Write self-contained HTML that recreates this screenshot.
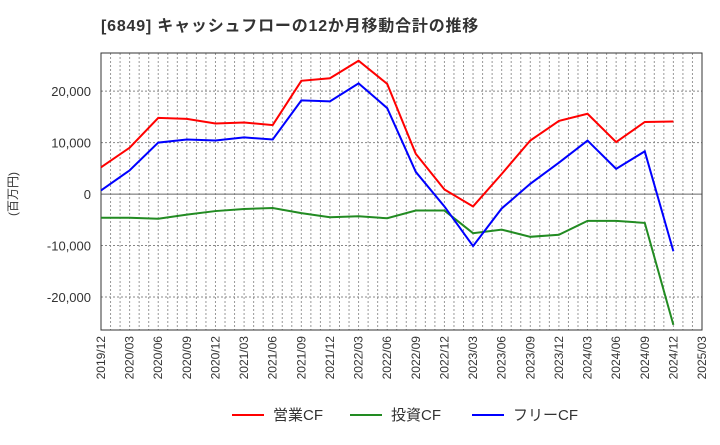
<!DOCTYPE html>
<html><head><meta charset="utf-8">
<style>
body{margin:0;background:#fff;width:720px;height:440px;overflow:hidden;font-family:"Liberation Sans","Noto Sans CJK JP",sans-serif;}
svg text{font-family:"Liberation Sans","Noto Sans CJK JP",sans-serif;}
</style></head><body>
<svg id="chart" width="720" height="440">
<text x="101" y="31" font-size="16" font-weight="bold" fill="#333" letter-spacing="0.8">[6849]  キャッシュフローの12か月移動合計の推移</text>
<text transform="translate(17,194) rotate(-90)" text-anchor="middle" font-size="12" fill="#333">(百万円)</text>
<g id="grid"></g>
<g id="axes"></g>
<g id="series"></g>
<g id="legend"></g>
</svg>
<script>
const categories=["2019/12","2020/03","2020/06","2020/09","2020/12","2021/03","2021/06","2021/09","2021/12","2022/03","2022/06","2022/09","2022/12","2023/03","2023/06","2023/09","2023/12","2024/03","2024/06","2024/09","2024/12","2025/03"];
const operatingCF=[5200,9000,14800,14600,13700,13900,13400,22000,22500,25900,21400,7800,900,-2400,3900,10400,14200,15600,10100,14000,14100];
const investingCF=[-4600,-4600,-4800,-4000,-3300,-2900,-2700,-3700,-4500,-4300,-4700,-3200,-3200,-7600,-6900,-8300,-7900,-5200,-5200,-5600,-25400];
const freeCF=[700,4600,10000,10600,10400,11000,10600,18200,18000,21500,16700,4300,-2400,-10100,-2800,2000,6100,10400,4900,8300,-11100];
const yTicks=[-20000,-10000,0,10000,20000];
const yTickLabels=["-20,000","-10,000","0","10,000","20,000"];
const seriesNames=["営業CF","投資CF","フリーCF"];

const NS="http://www.w3.org/2000/svg";
const L=101,R=702,T=53,B=330,yMax=27400,yMin=-26400;
const xs=i=>L+(R-L)*i/(categories.length-1);
const ys=v=>T+(yMax-v)/(yMax-yMin)*(B-T);
function mk(tag,attrs,parent){const e=document.createElementNS(NS,tag);for(const k in attrs)e.setAttribute(k,attrs[k]);parent.appendChild(e);return e;}
const grid=document.getElementById('grid'),axes=document.getElementById('axes'),ser=document.getElementById('series'),leg=document.getElementById('legend');
const nMonths=(categories.length-1)*3;
for(let m=1;m<nMonths;m++){const x=L+(R-L)*m/nMonths;
const g=mk('line',{x1:x,x2:x,y1:T,y2:B,stroke:'#999','stroke-dasharray':'2,2','stroke-width':1},grid);

}
yTicks.forEach((v,i)=>{const y=ys(v);
const g=mk('line',{x1:L,x2:R,y1:y,y2:y,stroke:v===0?'#666':'#888','stroke-dasharray':v===0?'none':'2,2','stroke-width':1},grid);


const t=mk('text',{x:L-10,y:y+5,'text-anchor':'end','font-size':13,fill:'#333'},axes);t.textContent=yTickLabels[i];

});
categories.forEach((c,i)=>{const x=xs(i);
const t=mk('text',{transform:`translate(${x+4},${B+6}) rotate(-90)`,'text-anchor':'end','font-size':12,fill:'#333'},axes);t.textContent=c;

});
const fr=mk('rect',{x:L,y:T,width:R-L,height:B-T,fill:'none',stroke:'#333','stroke-width':1},axes);


const data=[operatingCF,investingCF,freeCF],cols=['#ff0000','#228b22','#0000ff'],names=['operating-cf-line','investing-cf-line','free-cf-line'];
data.forEach((d,k)=>{const p=mk('polyline',{points:d.map((v,i)=>xs(i)+','+ys(v)).join(' '),fill:'none',stroke:cols[k],'stroke-width':2},ser);

});
const lx=[232,350,472];
seriesNames.forEach((n,k)=>{
const l=mk('line',{x1:lx[k],x2:lx[k]+32,y1:415,y2:415,stroke:cols[k],'stroke-width':2},leg);


const t=mk('text',{x:lx[k]+41,y:420,'font-size':15,fill:'#333'},leg);t.textContent=n;

});
</script>
</body></html>
